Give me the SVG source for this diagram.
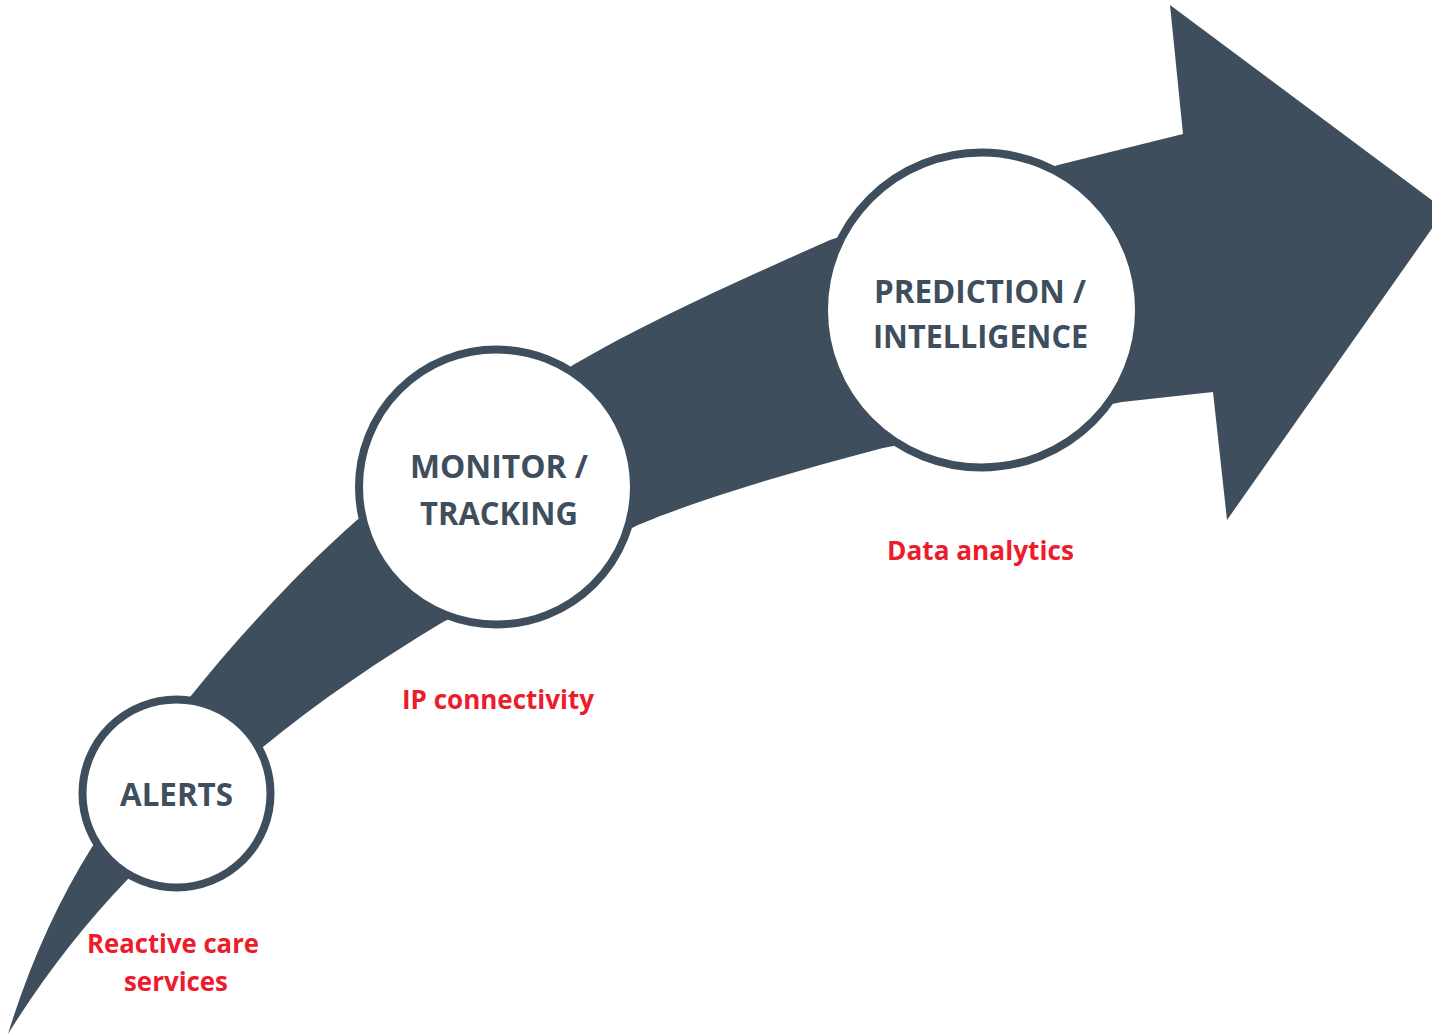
<svg xmlns="http://www.w3.org/2000/svg" width="1432" height="1034" viewBox="0 0 1432 1034">
  <style>
    .band { fill: #3E4E5C; }
    .node circle { fill: #FFFFFF; stroke: #3E4E5C; stroke-width: 8; }
    .title { font-family: "Open Sans", "Liberation Sans", sans-serif; font-weight: 700; font-size: 33px; fill: #3E4E5C; text-anchor: middle; }
    .note { font-family: "Open Sans", "Liberation Sans", sans-serif; font-weight: 700; font-size: 27px; fill: #EC1C2D; text-anchor: middle; }
  </style>
  <rect width="1432" height="1034" fill="#FFFFFF"/>
  <g id="connectors">
    <path class="band" d="M 8 1034 Q 40 930 92 847 L 190 697 C 240 635 300 570 357 520 L 573 365 C 650 320 740 280 830 240 L 1058 165 L 1183 134 L 1170 5 L 1445 210 L 1227 520 L 1213 392 L 1122 402 L 883 448 C 800 470 710 495 638 525 L 443 622 C 380 660 320 700 263 747 L 127 880 Q 60 950 8 1034 Z"/>
  </g>
  <g id="node-alerts" class="node">
    <circle cx="176.5" cy="793.5" r="94"/>
    <text class="title" x="176.5" y="806" textLength="113" lengthAdjust="spacingAndGlyphs">ALERTS</text>
  </g>
  <g id="node-monitor" class="node">
    <circle cx="496.5" cy="487" r="137.5"/>
    <text class="title" x="499" y="478" textLength="178" lengthAdjust="spacingAndGlyphs">MONITOR /</text>
    <text class="title" x="499" y="525" textLength="158" lengthAdjust="spacingAndGlyphs">TRACKING</text>
  </g>
  <g id="node-prediction" class="node">
    <circle cx="981.5" cy="310" r="157.5"/>
    <text class="title" x="980" y="303" textLength="212" lengthAdjust="spacingAndGlyphs">PREDICTION /</text>
    <text class="title" x="980.5" y="348" textLength="215" lengthAdjust="spacingAndGlyphs">INTELLIGENCE</text>
  </g>
  <g id="label-reactive">
    <text class="note" x="173" y="953" textLength="172" lengthAdjust="spacingAndGlyphs">Reactive care</text>
    <text class="note" x="176" y="991" textLength="104" lengthAdjust="spacingAndGlyphs">services</text>
  </g>
  <g id="label-ip">
    <text class="note" x="498" y="709" textLength="192" lengthAdjust="spacingAndGlyphs">IP connectivity</text>
  </g>
  <g id="label-data">
    <text class="note" x="980.5" y="560" textLength="187" lengthAdjust="spacingAndGlyphs">Data analytics</text>
  </g>
</svg>
